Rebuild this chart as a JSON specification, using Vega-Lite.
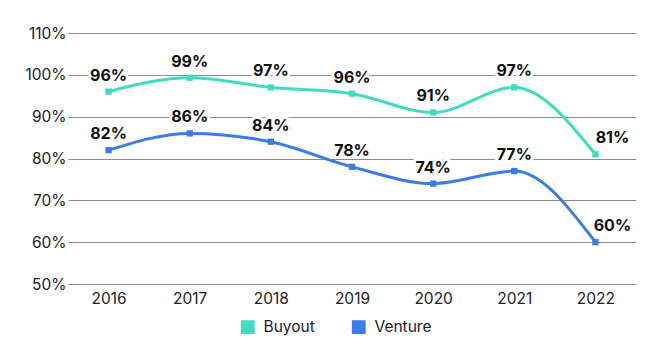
{
  "$schema": "https://vega.github.io/schema/vega-lite/v6.json",
  "width": 568,
  "height": 251,
  "autosize": {"type": "none"},
  "padding": {"left": 68, "top": 33, "right": 14, "bottom": 72},
  "background": "white",
  "config": {
    "font": "Inter",
    "view": {"stroke": null}
  },
  "data": {
    "values": [
      {"year": "2016", "series": "Buyout", "value": 0.96},
      {"year": "2017", "series": "Buyout", "value": 0.993},
      {"year": "2018", "series": "Buyout", "value": 0.97},
      {"year": "2019", "series": "Buyout", "value": 0.955},
      {"year": "2020", "series": "Buyout", "value": 0.91},
      {"year": "2021", "series": "Buyout", "value": 0.97},
      {"year": "2022", "series": "Buyout", "value": 0.81},
      {"year": "2016", "series": "Venture", "value": 0.82},
      {"year": "2017", "series": "Venture", "value": 0.86},
      {"year": "2018", "series": "Venture", "value": 0.84},
      {"year": "2019", "series": "Venture", "value": 0.78},
      {"year": "2020", "series": "Venture", "value": 0.74},
      {"year": "2021", "series": "Venture", "value": 0.77},
      {"year": "2022", "series": "Venture", "value": 0.60}
    ]
  },
  "encoding": {
    "x": {
      "field": "year", "type": "ordinal", "title": null,
      "scale": {"type": "point", "padding": 0.5},
      "axis": {"domain": false, "ticks": false, "labelAngle": 0, "labelPadding": 7, "labelFontSize": 15.5, "labelColor": "#222", "grid": false}
    },
    "y": {
      "field": "value", "type": "quantitative", "title": null,
      "scale": {"domain": [0.5, 1.1], "nice": false, "zero": false},
      "axis": {"values": [0.5, 0.6, 0.7, 0.8, 0.9, 1.0, 1.1], "format": ".0%", "domain": false, "ticks": false, "labelPadding": 2, "labelFontSize": 15.5, "labelColor": "#222", "gridColor": "#8c8c8c", "gridWidth": 1}
    }
  },
  "layer": [
    {
      "mark": {"type": "line", "interpolate": "monotone", "strokeWidth": 3, "point": {"shape": "square", "size": 40, "filled": true, "opacity": 1}},
      "encoding": {
        "color": {
          "field": "series", "type": "nominal", "title": null,
          "scale": {"domain": ["Buyout", "Venture"], "range": ["#3fdcc2", "#3a7ce9"]},
          "legend": {"orient": "none", "legendX": 172, "legendY": 286, "direction": "horizontal", "symbolType": "square", "symbolSize": 190, "symbolStrokeWidth": 0, "labelFontSize": 15.5, "labelColor": "#222", "columnPadding": 36, "labelOffset": 8}
        }
      }
    },
    {
      "transform": [{"filter": "datum.year != '2022'"}],
      "mark": {"type": "text", "dy": -16, "fontSize": 16, "fontWeight": "bold", "stroke": "white", "strokeWidth": 6, "strokeJoin": "round", "fill": "white"},
      "encoding": {"text": {"field": "value", "format": ".0%"}}
    },
    {
      "transform": [{"filter": "datum.year != '2022'"}],
      "mark": {"type": "text", "dy": -16, "fontSize": 16, "fontWeight": "bold", "fill": "#111"},
      "encoding": {"text": {"field": "value", "format": ".0%"}}
    },
    {
      "transform": [{"filter": "datum.year == '2022'"}],
      "mark": {"type": "text", "dy": -16, "dx": 17, "fontSize": 16, "fontWeight": "bold", "fill": "#111"},
      "encoding": {"text": {"field": "value", "format": ".0%"}}
    }
  ]
}
